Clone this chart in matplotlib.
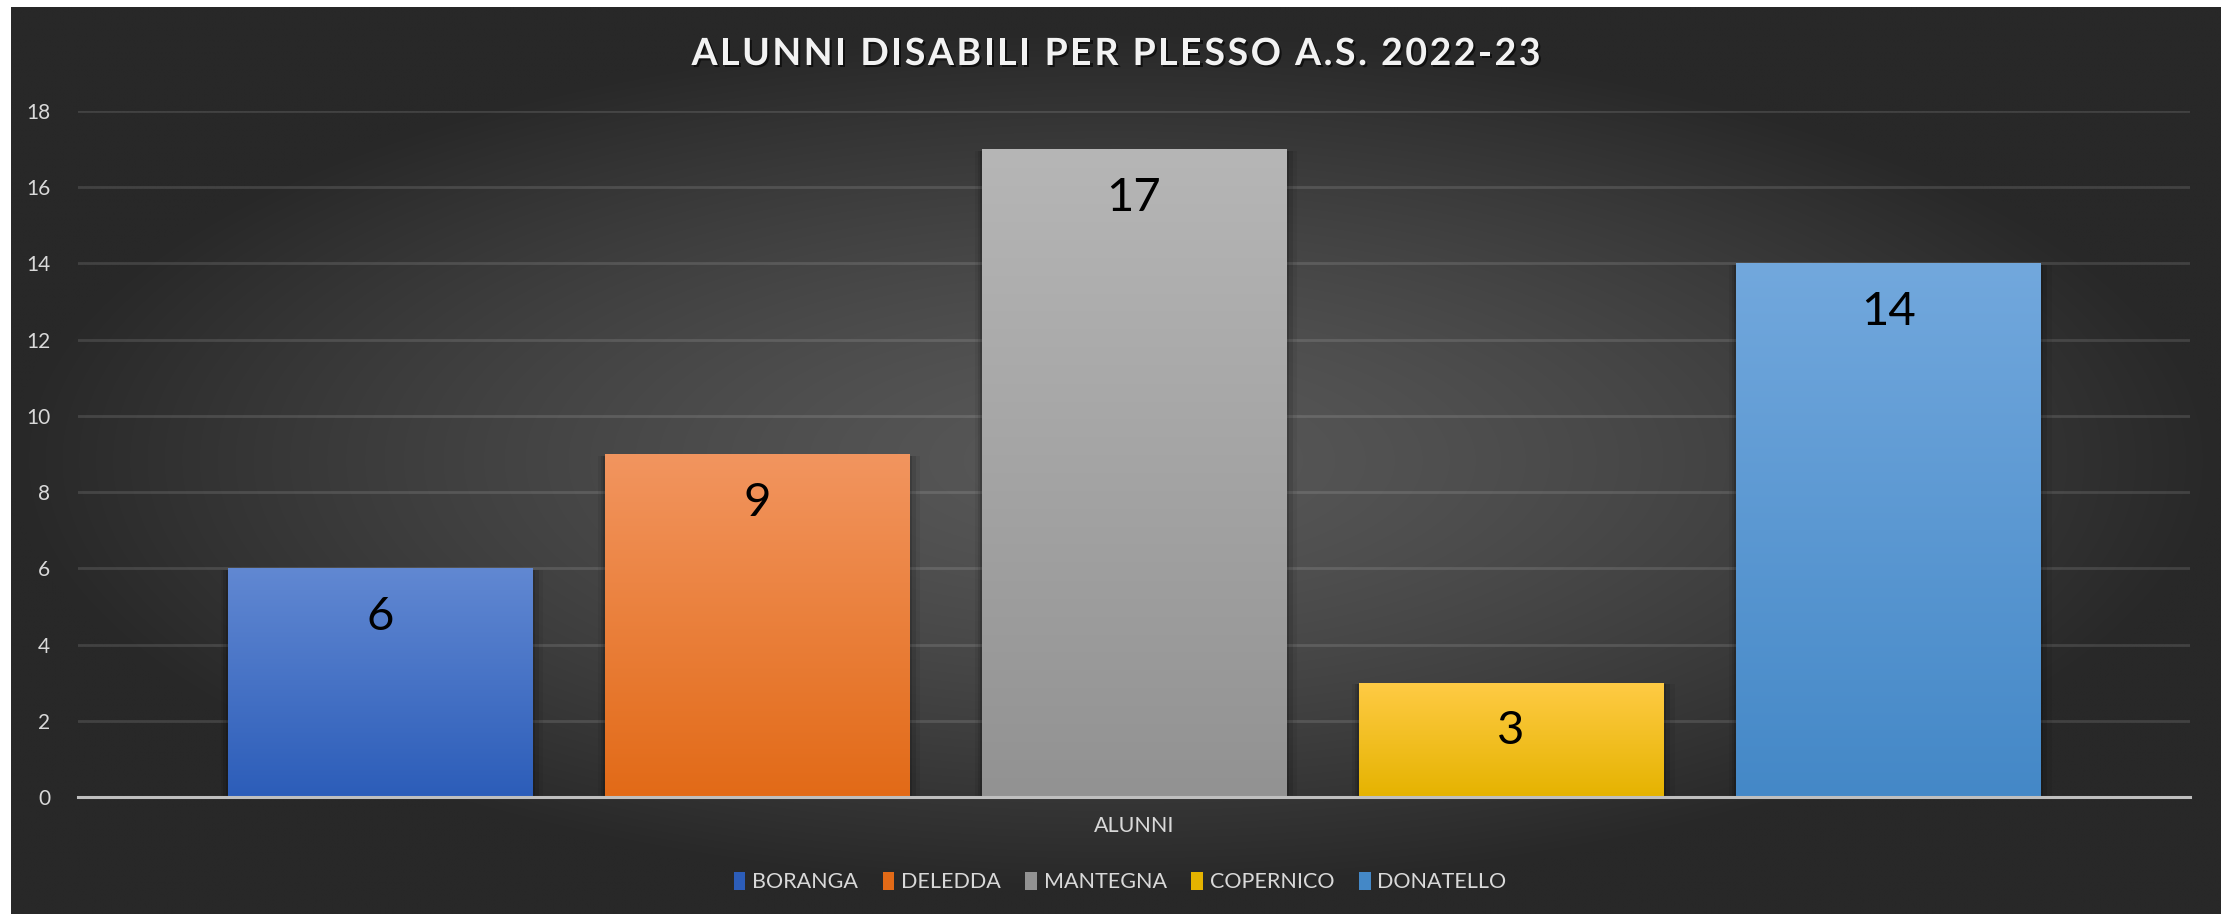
import numpy as np
import matplotlib
matplotlib.use('Agg')
import matplotlib.pyplot as plt
import matplotlib.patheffects as pe
from matplotlib.patches import Patch
from matplotlib.colors import LinearSegmentedColormap

plt.rcParams['font.family'] = ['Lato', 'DejaVu Sans']

# dati
plessi = ['BORANGA', 'DELEDDA', 'MANTEGNA', 'COPERNICO', 'DONATELLO']
alunni = [6, 9, 17, 3, 14]
categoria = 'ALUNNI'
titolo = 'ALUNNI DISABILI PER PLESSO A.S. 2022-23'
y_ticks = [0, 2, 4, 6, 8, 10, 12, 14, 16, 18]

# colori (alto, basso) per il gradiente delle barre
colori = [('#6188d2', '#2c5db9'),
          ('#f2955f', '#e26a17'),
          ('#b6b6b6', '#929292'),
          ('#ffcb45', '#e5b300'),
          ('#72a8dd', '#4488c7')]

W, H = 2233, 914
fig = plt.figure(figsize=(W / 100, H / 100), dpi=100)
fig.patch.set_facecolor('white')

# sfondo con gradiente radiale
bg = fig.add_axes([11 / W, 0, (2221 - 11) / W, (H - 7) / H])
bg.set_zorder(-5)
bg.axis('off')
xx, yy = np.meshgrid(np.linspace(-1, 1, 600), np.linspace(-1, 1, 300))
r = np.clip(np.sqrt(xx ** 2 + (yy * 1.05) ** 2), 0, 1)
light = np.array([0x58, 0x58, 0x58]) / 255
dark = np.array([0x28, 0x28, 0x28]) / 255
img = light + (dark - light) * (r[..., None] ** 1.4)
bg.imshow(img, aspect='auto', extent=[0, 1, 0, 1], interpolation='bilinear')
bg.set_xlim(0, 1)
bg.set_ylim(0, 1)

ax = fig.add_axes([78 / W, 117 / H, (2190 - 78) / W, (797 - 111) / H])
ax.set_facecolor('none')

x = np.arange(len(plessi))
width = 0.807
bars = ax.bar(x, alunni, width=width, color=[c[1] for c in colori], zorder=3)

for b, (top, bot) in zip(bars, colori):
    # ombra morbida ai lati
    for k, a in [(0.03, 0.06), (0.018, 0.10), (0.008, 0.14)]:
        sh = plt.Rectangle((b.get_x() - k * 0.6, 0), b.get_width() + k * 1.6, b.get_height() - 0.04,
                           color='black', alpha=a, zorder=2, lw=0)
        ax.add_patch(sh)
    cmap = LinearSegmentedColormap.from_list('g', [bot, top])
    grad = np.linspace(0, 1, 256).reshape(-1, 1)
    im = ax.imshow(grad, cmap=cmap, aspect='auto', origin='lower', zorder=4,
                   extent=[b.get_x(), b.get_x() + b.get_width(), 0, b.get_height()])
    im.set_clip_path(b)

ax.set_xlim(-0.8, 4.8)
ax.set_ylim(0, 18)

for xi, v in zip(x, alunni):
    ax.annotate(str(v), (xi, v), xytext=(0, -35), textcoords='offset points',
                ha='center', va='center', fontsize=34, color='black', zorder=6)

ax.set_yticks(y_ticks)
ax.yaxis.grid(True, color='white', alpha=0.12, lw=2)
ax.set_axisbelow(True)
ax.tick_params(axis='y', length=0, pad=20, labelsize=15, labelcolor='#d9d9d9')
ax.set_xticks([])
for s in ['top', 'right', 'left']:
    ax.spines[s].set_visible(False)
ax.spines['bottom'].set_color('#bfbfbf')
ax.spines['bottom'].set_linewidth(2.2)
ax.spines['bottom'].set_zorder(7)

fig.text(1134 / W, 1 - 826 / H, categoria, ha='center', va='center',
         fontsize=15.5, color='#d9d9d9')

# titolo con spaziatura tra le lettere
spazio = 2.5  # pixel
ombra = [pe.SimplePatchShadow(offset=(1.5, -1.5), shadow_rgbFace='black', alpha=0.6), pe.Normal()]
renderer = fig.canvas.get_renderer()
lettere = []
for ch in titolo:
    t = fig.text(0, 1 - 54 / H, ch, ha='left', va='center', fontsize=27,
                 fontweight='bold', color='#f2f2f2', path_effects=ombra)
    lettere.append(t)
larghezze = []
for t, ch in zip(lettere, titolo):
    if ch == ' ':
        t.set_text('a a')
        w3 = t.get_window_extent(renderer).width
        t.set_text('aa')
        w2 = t.get_window_extent(renderer).width
        t.set_text(' ')
        larghezze.append(w3 - w2)
    else:
        larghezze.append(t.get_window_extent(renderer).width)
totale = sum(larghezze) + spazio * (len(titolo) - 1)
pos = 1116 - totale / 2
for t, w in zip(lettere, larghezze):
    t.set_x(pos / W)
    pos += w + spazio

handles = [Patch(facecolor=c[1], edgecolor='none') for c in colori]
fig.legend(handles, plessi, loc='center', bbox_to_anchor=(1120 / W, 1 - 882 / H),
           ncol=5, frameon=False, fontsize=15.5, labelcolor='#d9d9d9',
           handlelength=0.55, handleheight=0.95, handletextpad=0.3, columnspacing=1.15)

fig.savefig('out.png', dpi=100, facecolor=fig.get_facecolor())
